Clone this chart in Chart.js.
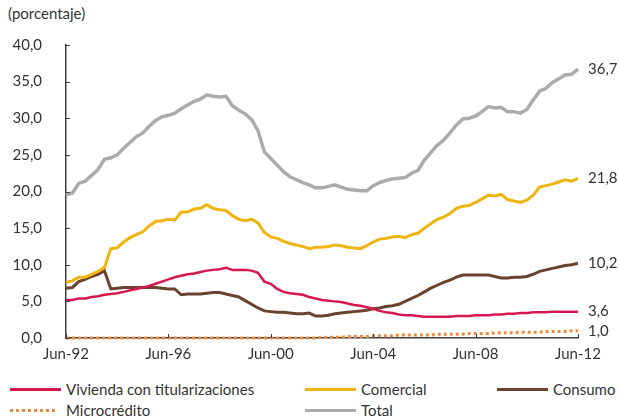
<!DOCTYPE html>
<html><head><meta charset="utf-8">
<script src="https://cdn.jsdelivr.net/npm/chart.js@4/dist/chart.umd.min.js"></script>
<style>
html,body{margin:0;padding:0;background:#fff;}
body{width:619px;height:419px;position:relative;overflow:hidden;font-family:Lato,sans-serif;color:#333;}
#wrap{position:absolute;left:0;top:0;width:619px;height:372px;}
#unit{position:absolute;left:8px;top:3px;font-size:15px;line-height:20px;}
.leg{position:absolute;height:20px;font-size:15px;line-height:20px;display:flex;align-items:center;white-space:nowrap;}
.sw{width:51px;height:3px;margin-right:5px;}
</style></head>
<body>
<div id="unit">(porcentaje)</div>
<div id="wrap"><canvas id="c"></canvas></div>
<div id="legend"></div>
<script>
// quarterly categories Jun-92 .. Jun-12
const monthNames = ['Jun','Sep','Dic','Mar'];
const categories = [];
for (let i = 0; i <= 80; i++) {
  const m = monthNames[i % 4];
  const yr = 1992 + Math.floor((i + 2) / 4);
  categories.push(m + '-' + String(yr % 100).padStart(2, '0'));
}
const tickLabels = ['Jun-92','Jun-96','Jun-00','Jun-04','Jun-08','Jun-12'];
const yTicks = [0,5,10,15,20,25,30,35,40];

const vivienda = [5.2,5.2,5.4,5.4,5.6,5.7,5.9,6.0,6.1,6.3,6.5,6.7,6.9,7.1,7.4,7.7,8.0,8.3,8.5,8.7,8.8,9.0,9.2,9.3,9.4,9.6,9.3,9.3,9.3,9.2,8.9,7.7,7.4,6.7,6.3,6.1,6.0,5.9,5.6,5.4,
  5.2,5.1,5.0,4.9,4.7,4.5,4.4,4.2,4.0,3.7,3.5,3.4,3.2,3.1,3.1,3.0,2.9,2.9,2.9,2.9,2.9,3.0,3.0,3.0,3.1,3.1,3.1,3.2,3.2,3.3,3.3,3.4,3.4,3.5,3.5,3.5,3.6,3.6,3.6,3.6,3.6];
const comercial = [7.6,7.8,8.3,8.3,8.7,9.1,9.6,12.2,12.3,13.1,13.7,14.1,14.5,15.3,15.9,16.0,16.2,16.1,17.2,17.2,17.6,17.7,18.2,17.7,17.5,17.4,16.7,16.2,16.0,16.2,15.7,14.4,13.8,13.6,13.2,12.9,12.7,12.5,12.2,12.4,
  12.4,12.5,12.7,12.6,12.4,12.3,12.2,12.6,13.1,13.5,13.6,13.8,13.9,13.7,14.1,14.3,15.0,15.6,16.2,16.5,17.0,17.7,18.0,18.1,18.5,19.0,19.5,19.4,19.6,18.9,18.7,18.5,18.8,19.5,20.6,20.8,21.0,21.3,21.6,21.4,21.8];
const consumo = [6.8,6.9,7.7,8.0,8.4,8.7,9.2,6.7,6.8,6.9,6.9,6.9,6.9,6.9,6.9,6.8,6.7,6.7,5.9,6.0,6.0,6.0,6.1,6.2,6.2,6.0,5.8,5.6,5.1,4.6,4.1,3.7,3.6,3.5,3.5,3.4,3.3,3.3,3.4,3.0,
  3.0,3.1,3.3,3.4,3.5,3.6,3.7,3.8,4.0,4.1,4.3,4.4,4.6,5.0,5.4,5.8,6.3,6.8,7.2,7.6,7.9,8.3,8.6,8.6,8.6,8.6,8.6,8.4,8.2,8.2,8.3,8.3,8.4,8.7,9.1,9.3,9.5,9.7,9.9,10.0,10.2];
const microcredito = [0,0,0,0,0,0,0,0,0,0,0,0,0,0,0,0,0,0,0,0,0,0,0,0,0,0,0,0,0,0,0,0,0,0,0,0,0,0,0,0,
  0.1,0.1,0.1,0.1,0.2,0.2,0.2,0.2,0.3,0.3,0.3,0.3,0.4,0.4,0.4,0.4,0.4,0.4,0.5,0.5,0.5,0.5,0.5,0.6,0.6,0.6,0.6,0.7,0.7,0.7,0.7,0.8,0.8,0.8,0.8,0.9,0.9,0.9,0.9,1.0,1.0];
const total = [19.5,19.8,21.1,21.4,22.2,23.0,24.4,24.6,25.0,25.9,26.7,27.5,28.0,28.9,29.7,30.2,30.4,30.7,31.3,31.8,32.3,32.6,33.2,33.0,32.9,33.0,31.7,31.1,30.6,29.8,28.3,25.4,24.5,23.6,22.7,22.0,21.6,21.2,20.9,20.5,
  20.5,20.7,20.9,20.6,20.3,20.2,20.1,20.1,20.8,21.2,21.5,21.7,21.8,21.9,22.5,22.9,24.3,25.3,26.3,27.0,28.0,29.1,29.9,30.0,30.3,30.9,31.6,31.4,31.5,30.9,30.9,30.7,31.2,32.5,33.7,34.1,34.9,35.4,35.9,36.0,36.7];

const seriesNames = ['Vivienda con titularizaciones','Comercial','Consumo','Microcrédito','Total'];
const fmt = v => v.toFixed(1).replace('.', ',');

Chart.defaults.font.family = 'Lato, sans-serif';
Chart.defaults.font.size = 15;
Chart.defaults.color = '#333';

const datasets = [
  {label: seriesNames[0], data: vivienda, borderColor: '#D6184F', borderWidth: 2.5},
  {label: seriesNames[1], data: comercial, borderColor: '#EFB40F', borderWidth: 3},
  {label: seriesNames[2], data: consumo, borderColor: '#6B4230', borderWidth: 3},
  {label: seriesNames[3], data: microcredito, borderColor: '#EE8A3C', borderWidth: 3, borderDash: [3,3]},
  {label: seriesNames[4], data: total, borderColor: '#ABABAD', borderWidth: 3.5}
].map(d => Object.assign({pointRadius: 0, tension: 0, fill: false, clip: false, borderCapStyle: 'butt'}, d));

const decor = {
  id: 'decor',
  afterDatasetsDraw(chart) {
    const {ctx, chartArea} = chart;
    const x = chart.scales.x, y = chart.scales.y;
    ctx.save();
    ctx.strokeStyle = '#404040';
    ctx.lineWidth = 1;
    yTicks.forEach(v => {
      const py = Math.round(y.getPixelForValue(v)) + 0.5;
      ctx.beginPath(); ctx.moveTo(chartArea.left, py); ctx.lineTo(chartArea.left + 4, py); ctx.stroke();
    });
    tickLabels.forEach(l => {
      const px = Math.round(x.getPixelForValue(categories.indexOf(l))) + 0.5;
      ctx.beginPath(); ctx.moveTo(px, chartArea.bottom); ctx.lineTo(px, chartArea.bottom - 4); ctx.stroke();
    });
    ctx.font = '15px Lato, sans-serif';
    ctx.fillStyle = '#333';
    ctx.textAlign = 'left';
    ctx.textBaseline = 'middle';
    chart.data.datasets.forEach((ds, i) => {
      const meta = chart.getDatasetMeta(i);
      const pt = meta.data[meta.data.length - 1];
      ctx.fillText(fmt(ds.data[ds.data.length - 1]), pt.x + 10, pt.y);
    });
    ctx.restore();
  }
};

new Chart(document.getElementById('c'), {
  type: 'line',
  data: {labels: categories, datasets},
  plugins: [decor],
  options: {
    responsive: true,
    maintainAspectRatio: false,
    animation: false,
    layout: {padding: {top: 45, right: 41, bottom: 0, left: 0}},
    plugins: {legend: {display: false}, tooltip: {enabled: false}},
    scales: {
      x: {
        offset: false,
        grid: {display: true, drawOnChartArea: false, drawTicks: false},
        border: {display: true, color: '#404040', width: 1.5},
        ticks: {
          autoSkip: false, maxRotation: 0, minRotation: 0, padding: 7,
          callback: function(v, i) { const l = categories[i]; return tickLabels.includes(l) ? l : ''; }
        },
        afterFit: s => { s.height = 34; }
      },
      y: {
        min: 0, max: 40,
        grid: {display: true, drawOnChartArea: false, drawTicks: false},
        border: {display: true, color: '#404040', width: 1.5},
        ticks: {stepSize: 5, padding: 24, callback: v => fmt(v)},
        afterFit: s => { s.width = 66; }
      }
    }
  }
});

// HTML legend built from datasets
const legPos = [[10,389],[305,389],[497,389],[10,410],[305,410]];
const legEl = document.getElementById('legend');
datasets.forEach((d, i) => {
  const item = document.createElement('div');
  item.className = 'leg';
  item.style.left = legPos[i][0] + 'px';
  item.style.top = (legPos[i][1] - 10) + 'px';
  const sw = document.createElement('span');
  sw.className = 'sw';
  if (d.borderDash) {
    sw.style.background = 'repeating-linear-gradient(90deg,' + d.borderColor + ' 0 3px, transparent 3px 6px)';
    sw.style.width = '48px';
    sw.style.marginRight = '8px';
  } else {
    sw.style.background = d.borderColor;
  }
  const tx = document.createElement('span');
  tx.textContent = d.label;
  item.appendChild(sw); item.appendChild(tx);
  legEl.appendChild(item);
});
</script>
</body></html>
